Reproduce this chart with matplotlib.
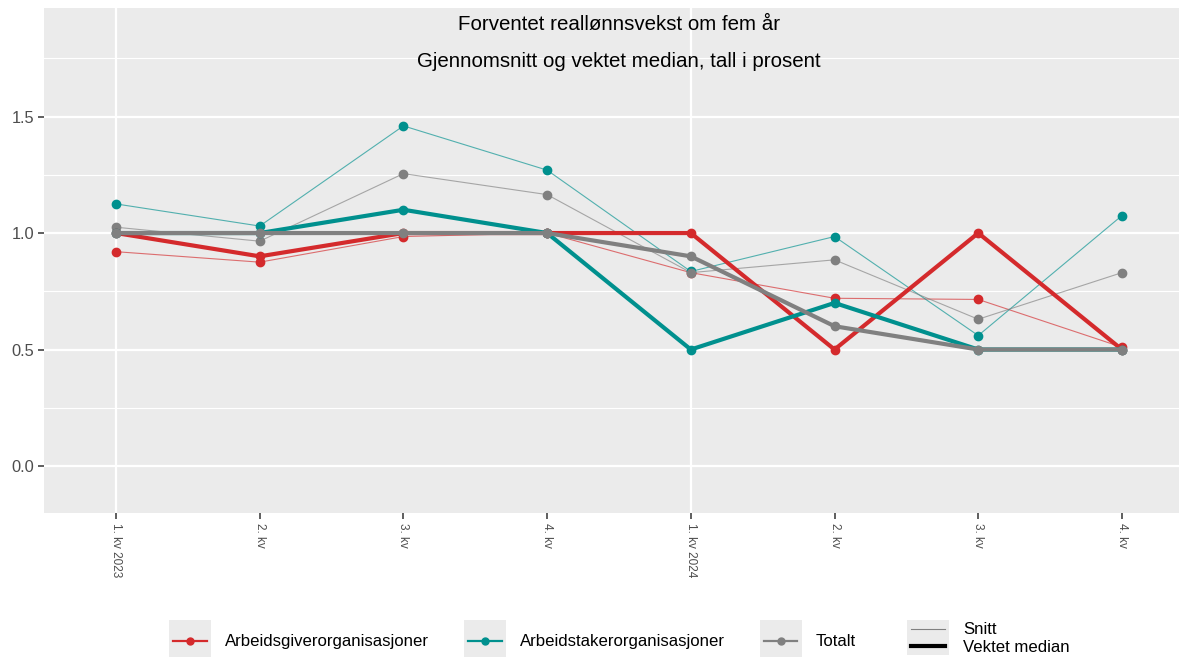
import numpy as np
import matplotlib
matplotlib.use('Agg')
import matplotlib.pyplot as plt
from matplotlib.lines import Line2D
from matplotlib.patches import Rectangle
from matplotlib.legend_handler import HandlerBase

plt.rcParams['font.family'] = ['Liberation Sans', 'DejaVu Sans']

# data
kvartal = ['1. kv 2023', '2. kv', '3. kv', '4. kv', '1. kv 2024', '2. kv', '3. kv', '4. kv']
grupper = ['Arbeidsgiverorganisasjoner', 'Arbeidstakerorganisasjoner', 'Totalt']
farger = ['#D42A2C', '#00908E', '#808080']

ag_snitt = [0.92, 0.875, 0.985, 1.0, 0.83, 0.72, 0.715, 0.51]
ag_median = [1.0, 0.9, 1.0, 1.0, 1.0, 0.5, 1.0, 0.5]
at_snitt = [1.125, 1.03, 1.46, 1.27, 0.835, 0.985, 0.56, 1.075]
at_median = [1.0, 1.0, 1.1, 1.0, 0.5, 0.7, 0.5, 0.5]
tot_snitt = [1.025, 0.965, 1.255, 1.165, 0.83, 0.885, 0.63, 0.83]
tot_median = [1.0, 1.0, 1.0, 1.0, 0.9, 0.6, 0.5, 0.5]

snitt = [ag_snitt, at_snitt, tot_snitt]
median = [ag_median, at_median, tot_median]

tittel = 'Forventet reallønnsvekst om fem år'
undertittel = 'Gjennomsnitt og vektet median, tall i prosent'

x = np.arange(len(kvartal))

fig = plt.figure(figsize=(11.79, 6.57), dpi=100)
ax = fig.add_axes([44/1179, 1-513/657, 1-44/1179, (513-8)/657])
ax.set_facecolor('#EBEBEB')
for s in ax.spines.values():
    s.set_visible(False)

# thin lines = snitt, thick = vektet median
for verdier, farge in zip(snitt, farger):
    ax.plot(x, verdier, color=farge, lw=0.8, alpha=0.65, zorder=3)
    ax.plot(x, verdier, 'o', color=farge, ms=6, zorder=4)
for verdier, farge in zip(median, farger):
    ax.plot(x, verdier, color=farge, lw=3.0, marker='o', ms=6, zorder=5,
            solid_capstyle='butt')

ax.set_xlim(-0.501, 7.397)
ax.set_ylim(-0.2017, 1.966)
ax.set_yticks([0, 0.5, 1.0, 1.5])
ax.set_yticklabels(['0.0', '0.5', '1.0', '1.5'])
ax.set_yticks([0.25, 0.75, 1.25, 1.75], minor=True)
ax.set_xticks(x)
ax.set_xticklabels(kvartal, rotation=270, fontsize=8.5, color='#4D4D4D', va='top', ha='center')
ax.tick_params(axis='y', which='major', length=4, width=1.1, color='#333333',
               labelsize=11.8, labelcolor='#4D4D4D', pad=3)
ax.tick_params(axis='y', which='minor', length=0)
ax.tick_params(axis='x', length=4, width=1.1, color='#333333', pad=3)

ax.grid(True, axis='y', which='major', color='white', lw=1.6, zorder=1)
ax.grid(True, axis='y', which='minor', color='white', lw=0.8, zorder=1)
ax.grid(True, axis='x', which='major', color='white', lw=1.6, zorder=1)
for i, gl in enumerate(ax.get_xgridlines()):
    gl.set_visible(i in (0, 4))
ax.set_axisbelow(True)

midt = (x[0] + x[-1]) / 2
ax.text(midt, 1.895, tittel, ha='center', va='center', fontsize=14.8, color='black', zorder=6)
ax.text(midt, 1.738, undertittel, ha='center', va='center', fontsize=14.8, color='black', zorder=6)


class KeyBox(HandlerBase):
    def create_artists(self, legend, orig, xd, yd, w, h, fs, trans):
        bg = Rectangle((-xd, -yd), w, h, fc='#EBEBEB', ec='none', transform=trans)
        y = -yd + h / 2
        ln = Line2D([-xd + 0.1 * w, -xd + 0.9 * w], [y, y], color=orig.get_color(),
                    lw=orig.get_linewidth(), transform=trans)
        arts = [bg, ln]
        if orig.get_marker() not in (None, 'None', '', ' '):
            arts.append(Line2D([-xd + w / 2], [y], marker='o', ms=orig.get_markersize(),
                               color=orig.get_color(), ls='none', transform=trans))
        return arts


h1 = [Line2D([], [], color=f, lw=1.6, marker='o', ms=5) for f in farger]
leg1 = fig.legend(h1, grupper, ncol=3, loc='center left',
                  bbox_to_anchor=(169/1179, 1-641/657), frameon=False,
                  fontsize=12.1, handlelength=2.5, handleheight=3.47, handletextpad=0.85,
                  columnspacing=2.05, borderpad=0, borderaxespad=0,
                  handler_map={Line2D: KeyBox()})
h2 = [Line2D([], [], color='#808080', lw=0.8, marker=None),
      Line2D([], [], color='black', lw=3.0, marker=None)]
leg2 = fig.legend(h2, ['Snitt', 'Vektet median'], loc='upper left',
                  bbox_to_anchor=(907/1179, 1-620/657), frameon=False,
                  fontsize=12.1, handlelength=2.5, handleheight=1.2, handletextpad=0.85,
                  labelspacing=0, borderpad=0, borderaxespad=0,
                  handler_map={Line2D: KeyBox()})

fig.savefig('out.png', dpi=100)
